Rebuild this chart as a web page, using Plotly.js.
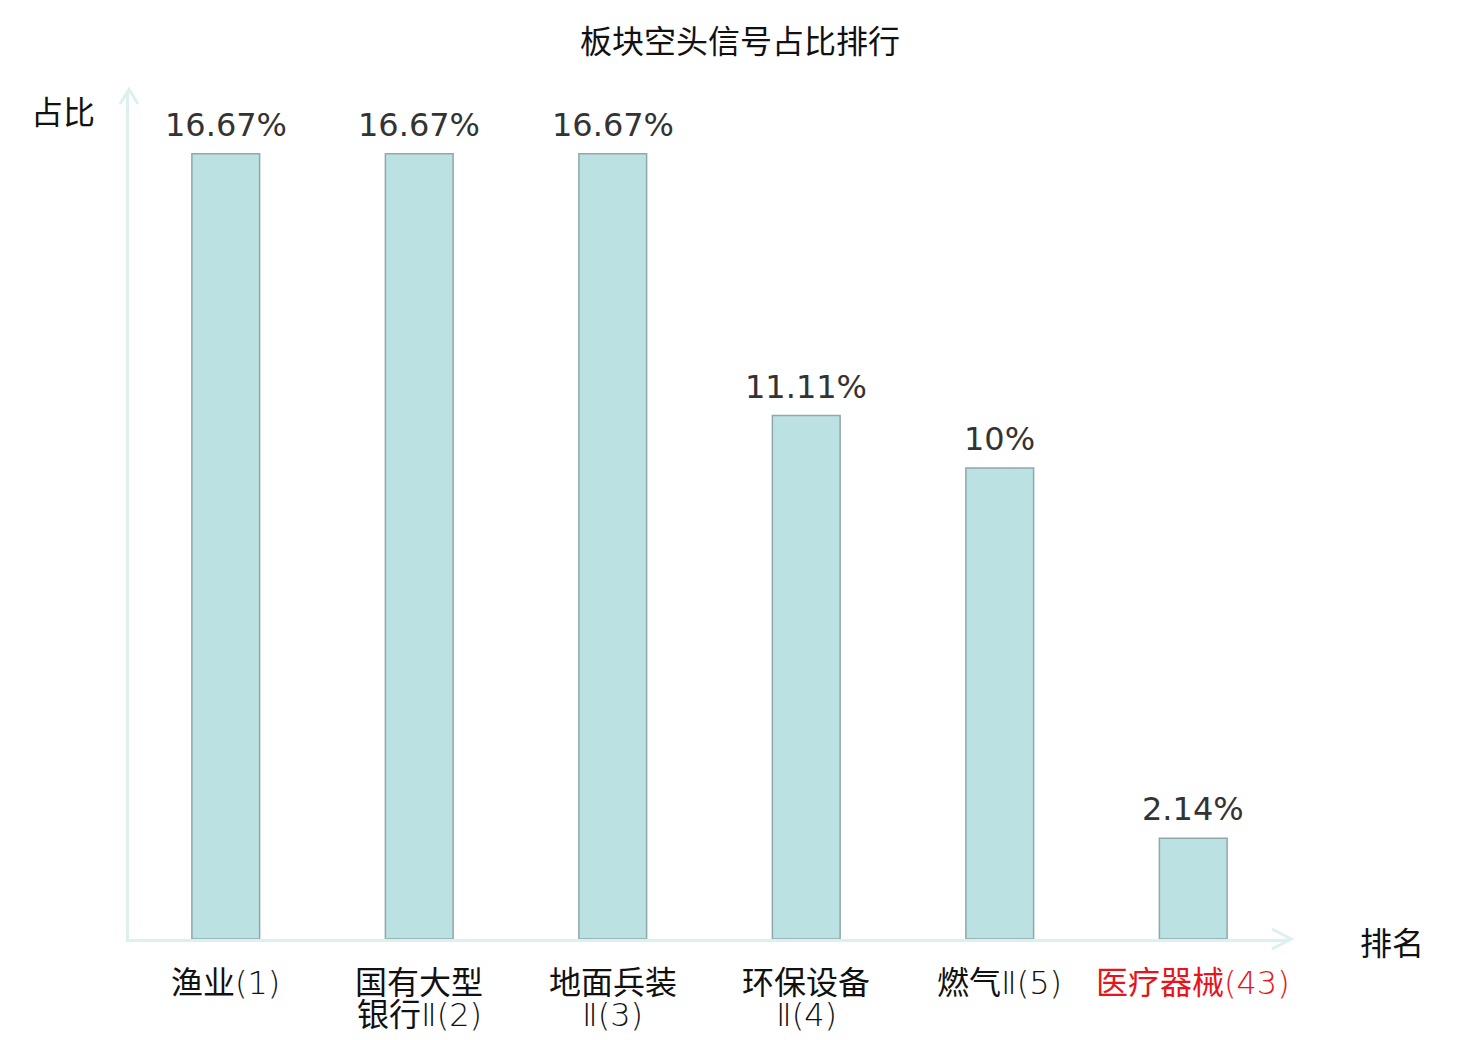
<!DOCTYPE html>
<html>
<head>
<meta charset="utf-8">
<script src="https://cdn.plot.ly/plotly-3.0.1.min.js"></script>
<style>
  html, body { margin: 0; padding: 0; background: #fff; }
  #chart { width: 1480px; height: 1040px; }
</style>
</head>
<body>
<div id="chart"></div>
<script>
// sector names with their rank
const sectors = ['渔业(1)', '国有大型<br>银行Ⅱ(2)', '地面兵装<br>Ⅱ(3)', '环保设备<br>Ⅱ(4)', '燃气Ⅱ(5)', '医疗器械(43)'];
const shares = [16.67, 16.67, 16.67, 11.11, 10, 2.14];
const shareLabels = ['16.67%', '16.67%', '16.67%', '11.11%', '10%', '2.14%'];
const highlighted = [false, false, false, false, false, true];

const W = 1480, H = 1040;
const margin = { l: 129, r: 190, t: 91, b: 101, pad: 0 };
const plotW = W - margin.l - margin.r;
const plotH = H - margin.t - margin.b;
const axisColor = '#dcf1ef';
const cjk = 'Noto Sans CJK SC';

const positions = sectors.map((_, i) => i);

// arrowheads, built in paper units from pixel sizes
const px = d => d / plotW, py = d => d / plotH;
const upArrow = `M ${-px(9)} ${1 - py(13)} L 0 1.002 L ${px(9)} ${1 - py(13)}`;
const rightArrow = `M ${1 - px(18)} ${py(10)} L 1.001 0 L ${1 - px(18)} ${-py(10)}`;

const bars = {
  type: 'bar',
  x: positions,
  y: shares,
  width: 0.35,
  marker: { color: '#bce1e3', line: { color: '#8fa8a8', width: 1.5 } },
  hoverinfo: 'none'
};

// value labels sit a little above each bar
const valueNotes = positions.map((x, i) => ({
  text: shareLabels[i], x: x, y: shares[i], xref: 'x', yref: 'y',
  xanchor: 'center', yanchor: 'bottom', yshift: 8, showarrow: false,
  font: { family: 'DejaVu Sans', size: 32, color: '#333333' }
}));

// the rank part of a label is drawn thinner than the name
const thinRank = line => line.replace(/([Ⅱ()0-9]+)$/, '<span style="font-weight:200">$1</span>');

// category labels under the axis, one note per line to keep the lines tight
const categoryNotes = [];
sectors.forEach((s, i) => {
  s.split('<br>').forEach((line, k) => {
    categoryNotes.push({
      text: thinRank(line), x: positions[i], y: 0, xref: 'x', yref: 'paper',
      xanchor: 'center', yanchor: 'middle', yshift: -(44 + 32 * k), showarrow: false,
      font: { family: 'DejaVu Sans, ' + cjk, size: 32, color: highlighted[i] ? '#e8141b' : '#111111' }
    });
  });
});

const layout = {
  width: W,
  height: H,
  margin: margin,
  paper_bgcolor: '#ffffff',
  plot_bgcolor: '#ffffff',
  showlegend: false,
  title: {
    text: '板块空头信号占比排行',
    font: { family: cjk, size: 32, color: '#111111' },
    x: 0.5, xref: 'container', xanchor: 'center',
    y: 1 - 42 / H, yref: 'container', yanchor: 'middle'
  },
  xaxis: {
    range: [-0.5, 5.5],
    tickvals: positions,
    showticklabels: false,
    ticks: '',
    showgrid: false,
    zeroline: false,
    showline: true,
    linecolor: axisColor,
    linewidth: 3,
    fixedrange: true
  },
  yaxis: {
    range: [0, 18],
    showticklabels: false,
    ticks: '',
    showgrid: false,
    zeroline: false,
    showline: true,
    linecolor: axisColor,
    linewidth: 3,
    fixedrange: true
  },
  shapes: [
    { type: 'path', xref: 'paper', yref: 'paper', path: upArrow, line: { color: axisColor, width: 3 } },
    { type: 'path', xref: 'paper', yref: 'paper', path: rightArrow, line: { color: axisColor, width: 3 } }
  ],
  annotations: valueNotes.concat(categoryNotes, [
    {
      text: '占比', xref: 'paper', yref: 'paper', x: px(-66), y: 1 - py(19),
      xanchor: 'center', yanchor: 'middle', showarrow: false,
      font: { family: cjk, size: 32, color: '#111111' }
    },
    {
      text: '排名', xref: 'paper', yref: 'paper', x: 1 + px(102), y: py(-2),
      xanchor: 'center', yanchor: 'middle', showarrow: false,
      font: { family: cjk, size: 32, color: '#111111' }
    }
  ])
};

Plotly.newPlot('chart', [bars], layout, { staticPlot: true });
</script>
</body>
</html>
